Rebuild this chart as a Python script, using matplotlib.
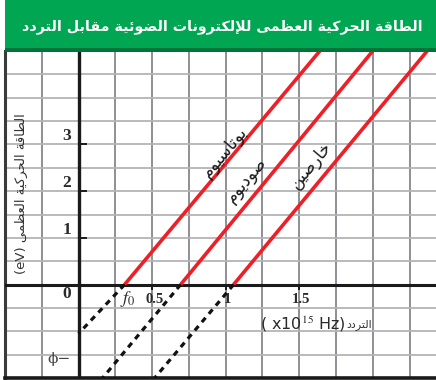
import numpy as np
import matplotlib
matplotlib.use('Agg')
import matplotlib.pyplot as plt
from matplotlib.patches import Rectangle
from matplotlib.ticker import MultipleLocator

plt.rcParams['mathtext.fontset'] = 'stix'

# ---------------- data ----------------
metals = ['بوتاسيوم', 'صوديوم', 'خارصين']
threshold_freq = [0.313, 0.694, 1.054]          # f0 (x10^15 Hz), E = 0
red_end_freq = [1.64, 2.00, 2.37]               # frequency where line reaches E = 5 eV
red_end_energy = [5.0, 5.0, 5.0]
dash_end_freq = [0.0, 0.163, 0.517]             # lower end of dashed extrapolation
dash_end_energy = [-1.05, -2.0, -2.0]
label_freq = [0.99, 1.14, 1.58]
label_energy = [2.85, 2.25, 2.55]
y_tick_values = [0, 1, 2, 3]
y_tick_labels = ['0', '1', '2', '3']
x_tick_values = [0.5, 1, 1.5]
x_tick_labels = ['0.5', '1', '1.5']
phi_energy = -1.6

title = 'الطاقة الحركية العظمى للإلكترونات الضوئية مقابل التردد'
ylabel_ar = 'الطاقة الحركية العظمى'
xlabel_ar = 'التردد'

# ---------------- minimal Arabic shaping ----------------
FORMS = {
    'ا': (0xFE8D, 0xFE8E, None, None),
    'إ': (0xFE87, 0xFE88, None, None),
    'ب': (0xFE8F, 0xFE90, 0xFE91, 0xFE92),
    'ة': (0xFE93, 0xFE94, None, None),
    'ت': (0xFE95, 0xFE96, 0xFE97, 0xFE98),
    'ح': (0xFEA1, 0xFEA2, 0xFEA3, 0xFEA4),
    'خ': (0xFEA5, 0xFEA6, 0xFEA7, 0xFEA8),
    'د': (0xFEA9, 0xFEAA, None, None),
    'ر': (0xFEAD, 0xFEAE, None, None),
    'س': (0xFEB1, 0xFEB2, 0xFEB3, 0xFEB4),
    'ص': (0xFEB9, 0xFEBA, 0xFEBB, 0xFEBC),
    'ض': (0xFEBD, 0xFEBE, 0xFEBF, 0xFEC0),
    'ط': (0xFEC1, 0xFEC2, 0xFEC3, 0xFEC4),
    'ظ': (0xFEC5, 0xFEC6, 0xFEC7, 0xFEC8),
    'ع': (0xFEC9, 0xFECA, 0xFECB, 0xFECC),
    'ق': (0xFED5, 0xFED6, 0xFED7, 0xFED8),
    'ك': (0xFED9, 0xFEDA, 0xFEDB, 0xFEDC),
    'ل': (0xFEDD, 0xFEDE, 0xFEDF, 0xFEE0),
    'م': (0xFEE1, 0xFEE2, 0xFEE3, 0xFEE4),
    'ن': (0xFEE5, 0xFEE6, 0xFEE7, 0xFEE8),
    'و': (0xFEED, 0xFEEE, None, None),
    'ى': (0xFEEF, 0xFEF0, None, None),
    'ي': (0xFEF1, 0xFEF2, 0xFEF3, 0xFEF4),
    'ئ': (0xFE89, 0xFE8A, 0xFE8B, 0xFE8C),
}
LAMALEF = {'ا': (0xFEFB, 0xFEFC), 'إ': (0xFEF9, 0xFEFA)}


def shape(s):
    def dual(c):
        return c in FORMS and FORMS[c][2] is not None
    out = []
    i, n = 0, len(s)
    while i < n:
        c = s[i]
        if c not in FORMS:
            out.append(c)
            i += 1
            continue
        join_prev = i > 0 and dual(s[i - 1])
        if c == 'ل' and i + 1 < n and s[i + 1] in LAMALEF:
            lig = LAMALEF[s[i + 1]]
            out.append(chr(lig[1] if join_prev else lig[0]))
            i += 2
            continue
        join_next = dual(c) and i + 1 < n and s[i + 1] in FORMS
        f = FORMS[c]
        if join_prev and join_next:
            code = f[3]
        elif join_prev:
            code = f[1]
        elif join_next:
            code = f[2]
        else:
            code = f[0]
        out.append(chr(code))
        i += 1
    return ''.join(reversed(out))


AR = ['DejaVu Sans']

# ---------------- figure ----------------
fig = plt.figure(figsize=(4.36, 3.80), dpi=100)
fig.patch.set_facecolor('white')

# green title bar
fig.patches.append(Rectangle((5 / 436, 330 / 380), 431 / 436, 50 / 380,
                             transform=fig.transFigure, facecolor='#00a651',
                             edgecolor='none', zorder=0))
fig.patches.append(Rectangle((5 / 436, 328 / 380), 431 / 436, 4 / 380,
                             transform=fig.transFigure, facecolor='#00753a',
                             edgecolor='none', zorder=0))
fig.text(422 / 436, 353 / 380, shape(title), color='white', fontsize=10.3,
         fontweight='bold', family=AR, ha='right', va='center')

ax = fig.add_axes([5 / 436, 2 / 380, 431 / 436, 327 / 380])
ax.set_xlim(-0.5, 2.43)
ax.set_ylim(-2, 5)

ax.xaxis.set_major_locator(MultipleLocator(0.25))
ax.yaxis.set_major_locator(MultipleLocator(0.5))
ax.tick_params(length=0, labelbottom=False, labelleft=False)
ax.grid(axis='x', color='#8e8e96', lw=1.4, zorder=1)
ax.grid(axis='y', color='#b4b4b8', lw=1.3, zorder=1)

for s in ['top', 'right']:
    ax.spines[s].set_visible(False)
ax.spines['left'].set_color('#3a3a3a')
ax.spines['left'].set_linewidth(2.2)
ax.spines['bottom'].set_color('#1a1a1a')
ax.spines['bottom'].set_linewidth(2.6)

ax.axvline(0, color='#1a1a1a', lw=2.4, zorder=3)
ax.axhline(0, color='#1a1a1a', lw=2.2, zorder=3)

# small tick marks
for v in y_tick_values[1:]:
    ax.plot([0, 0.05], [v, v], color='#1a1a1a', lw=1.4, zorder=3)
for v in x_tick_values:
    ax.plot([v, v], [0, -0.1], color='#1a1a1a', lw=1.4, zorder=3)

# lines
for f0, fe, ee, fd, ed in zip(threshold_freq, red_end_freq, red_end_energy,
                              dash_end_freq, dash_end_energy):
    ax.plot([f0, fe], [0, ee], color='#ee1f26', lw=2.6,
            solid_capstyle='butt', zorder=4)
    ax.plot([f0, fd], [0, ed], color='#111111', lw=2.3,
            dashes=(1.8, 1.6), zorder=4)

# line labels
for name, lf, le in zip(metals, label_freq, label_energy):
    ax.text(lf, le, shape(name), rotation=50, rotation_mode='anchor',
            ha='center', va='center', fontsize=12, family=AR,
            color='#1a1a1a', zorder=5)

# tick labels
for v, t in zip(y_tick_values, y_tick_labels):
    yy = v + 0.17 if v != 0 else -0.2
    ax.text(-0.08, yy, t, ha='center', va='center', fontsize=12.5,
            fontweight='bold', family='Liberation Serif', color='#2a2a2a')
for v, t in zip(x_tick_values, x_tick_labels):
    ax.text(v + 0.015, -0.33, t, ha='center', va='center', fontsize=10.5,
            fontweight='bold', family='Liberation Serif', color='#2a2a2a')
ax.text(threshold_freq[0] + 0.02, -0.3, '$f_0$', ha='center', va='center',
        fontsize=13, color='#2a2a2a')
ax.text(-0.13, phi_energy, 'ϕ−', ha='center', va='center', fontsize=11,
        family='DejaVu Serif', color='#444444')

# axis labels
ax.text(1.815, -0.85, '( x10$^{15}$ Hz)', ha='right', va='center', fontsize=11.5,
        color='#2a2a2a', family='DejaVu Sans')
ax.text(1.82, -0.85, shape(xlabel_ar), ha='left', va='center', fontsize=8,
        color='#333333', family=AR)
ax.text(-0.39, 1.95, '(eV) ' + shape(ylabel_ar), rotation=90, ha='center',
        va='center', fontsize=9.5, color='#333333', family=AR)

fig.savefig('out.png', dpi=100, facecolor='white')
